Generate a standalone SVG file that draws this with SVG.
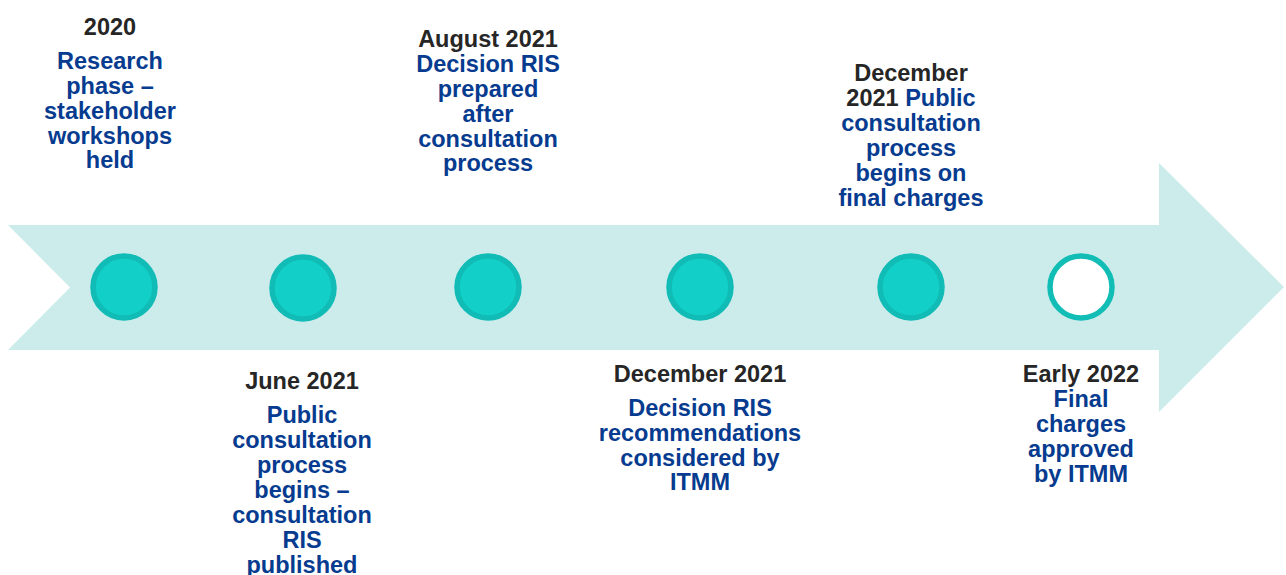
<svg xmlns="http://www.w3.org/2000/svg" width="1286" height="575" viewBox="0 0 1286 575">
  <style>
    text { font-family: "Liberation Sans", Arial, sans-serif; font-weight: bold; font-size: 23.5px; text-anchor: middle; }
    .yr { fill: #262626; }
    .tx { fill: #063B8F; }
    .dot { fill: #12CFC8; stroke: #10BCB5; stroke-width: 5.5; }
    .open { fill: #FFFFFF; stroke: #12BDB6; stroke-width: 5.5; }
  </style>
  <rect width="1286" height="575" fill="#FFFFFF"/>

  <!-- timeline band with notched tail and arrow head -->
  <g id="timeline-arrow">
    <polygon points="8,225 1159,225 1159,163 1284,287 1159,412 1159,350 8,350 70,287.5" fill="#CCECEB"/>
  </g>

  <g id="m2020">
    <circle class="dot" cx="124" cy="287" r="31"/>
    <text x="110" y="35" class="yr">2020</text>
    <text x="110" class="tx"><tspan x="110" y="69">Research</tspan><tspan x="110" y="94">phase –</tspan><tspan x="110" y="119">stakeholder</tspan><tspan x="110" y="144">workshops</tspan><tspan x="110" y="168">held</tspan></text>
  </g>

  <g id="m2021-jun">
    <circle class="dot" cx="303" cy="288" r="31"/>
    <text x="302" y="389" class="yr">June 2021</text>
    <text x="302" class="tx"><tspan x="302" y="423">Public</tspan><tspan x="302" y="448">consultation</tspan><tspan x="302" y="473">process</tspan><tspan x="302" y="498">begins –</tspan><tspan x="302" y="523">consultation</tspan><tspan x="302" y="548">RIS</tspan><tspan x="302" y="573">published</tspan></text>
  </g>

  <g id="m2021-aug">
    <circle class="dot" cx="488" cy="287" r="31"/>
    <text x="488" y="47" class="yr">August 2021</text>
    <text x="488" class="tx"><tspan x="488" y="72">Decision RIS</tspan><tspan x="488" y="97">prepared</tspan><tspan x="488" y="122">after</tspan><tspan x="488" y="147">consultation</tspan><tspan x="488" y="171">process</tspan></text>
  </g>

  <g id="m2021-dec-ris">
    <circle class="dot" cx="700" cy="287" r="31"/>
    <text x="700" y="382" class="yr">December 2021</text>
    <text x="700" class="tx"><tspan x="700" y="416">Decision RIS</tspan><tspan x="700" y="441">recommendations</tspan><tspan x="700" y="466">considered by</tspan><tspan x="700" y="490">ITMM</tspan></text>
  </g>

  <g id="m2021-dec-consult">
    <circle class="dot" cx="911" cy="287" r="31"/>
    <text x="911" y="81" class="yr">December</text>
    <text x="911" y="106"><tspan class="yr">2021 </tspan><tspan class="tx">Public</tspan></text>
    <text x="911" class="tx"><tspan x="911" y="131">consultation</tspan><tspan x="911" y="156">process</tspan><tspan x="911" y="181">begins on</tspan><tspan x="911" y="206">final charges</tspan></text>
  </g>

  <g id="m2022">
    <circle class="open" cx="1081" cy="287" r="31"/>
    <text x="1081" y="382" class="yr">Early 2022</text>
    <text x="1081" class="tx"><tspan x="1081" y="407">Final</tspan><tspan x="1081" y="432">charges</tspan><tspan x="1081" y="457">approved</tspan><tspan x="1081" y="482">by ITMM</tspan></text>
  </g>
</svg>
